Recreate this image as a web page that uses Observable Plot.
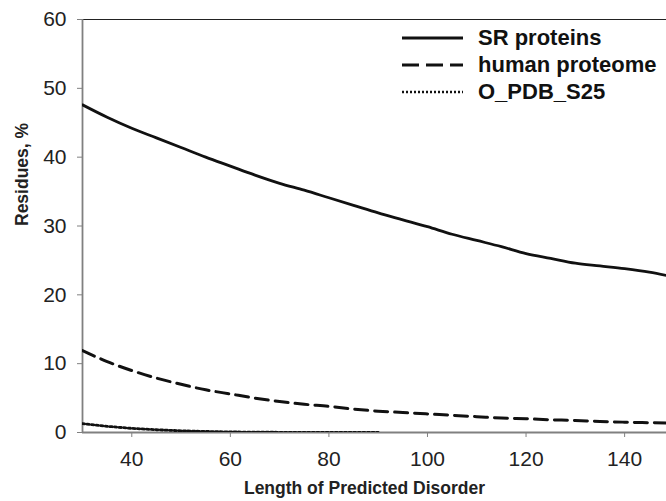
<!DOCTYPE html>
<html>
<head>
<meta charset="utf-8">
<script src="https://cdn.jsdelivr.net/npm/d3@7"></script>
<script src="https://cdn.jsdelivr.net/npm/@observablehq/plot@0.6"></script>
<style>
  html, body { margin: 0; padding: 0; background: #fff; overflow: hidden; }
  #wrap { position: relative; width: 666px; height: 501px; }
  #legend { position: absolute; left: 400px; top: 24px; font-family: "Liberation Sans", Arial, sans-serif; font-weight: bold; font-size: 22px; color: #111; }
  #legend .row { display: flex; align-items: center; height: 27px; }
  #legend svg { width: 66px; height: 10px; margin-right: 12px; }
</style>
</head>
<body>
<div id="wrap"></div>
<script>
const lengths = [30, 35, 40, 45, 50, 55, 60, 65, 70, 75, 80, 85, 90, 95, 100, 105, 110, 115, 120, 125, 130, 135, 140, 145, 150];
const srProteins = [47.6, 45.8, 44.2, 42.8, 41.4, 40.0, 38.7, 37.4, 36.2, 35.2, 34.1, 33.0, 31.9, 30.9, 29.9, 28.8, 27.9, 27.0, 26.0, 25.3, 24.6, 24.2, 23.8, 23.3, 22.6];
const humanProteome = [11.9, 10.3, 9.0, 7.9, 7.0, 6.2, 5.6, 5.0, 4.5, 4.1, 3.8, 3.4, 3.1, 2.9, 2.7, 2.5, 2.3, 2.1, 2.0, 1.85, 1.75, 1.6, 1.5, 1.42, 1.35];
const pdbLengths = [30, 35, 40, 45, 50, 55, 60, 65, 70, 75, 80, 85, 90];
const oPdbS25 = [1.3, 0.9, 0.6, 0.4, 0.25, 0.15, 0.08, 0.05, 0.03, 0.02, 0.01, 0.0, 0.0];
const seriesNames = ["SR proteins", "human proteome", "O_PDB_S25"];
const xTicks = [40, 60, 80, 100, 120, 140];
const yTicks = [0, 10, 20, 30, 40, 50, 60];
const xLabel = "Length of Predicted Disorder";
const yLabel = "Residues, %";

const sr = lengths.map((x, i) => ({x, y: srProteins[i]}));
const hp = lengths.map((x, i) => ({x, y: humanProteome[i]}));
const pdb = pdbLengths.map((x, i) => ({x, y: oPdbS25[i]}));

const font = "'Liberation Sans', Arial, sans-serif";
const axisGray = "#808080";

const chart = Plot.plot({
  width: 666,
  height: 501,
  marginLeft: 82,
  marginTop: 19,
  marginBottom: 69,
  marginRight: 0,
  style: {fontFamily: font, background: "#fff"},
  x: {domain: [30, 148.5]},
  y: {domain: [0, 60]},
  marks: [
    Plot.axisY({ticks: yTicks, tickSize: 5, tickPadding: 11, fontSize: 21, stroke: axisGray, fill: "#222", label: null}),
    Plot.axisX({ticks: xTicks, tickSize: 5, tickPadding: 14, fontSize: 21, stroke: axisGray, fill: "#222", label: null}),
    Plot.ruleY([yTicks[yTicks.length - 1]], {stroke: "#222", strokeWidth: 1.2}),
    Plot.ruleX([lengths[0]], {stroke: axisGray, strokeWidth: 1.8}),
    Plot.ruleY([yTicks[0]], {stroke: axisGray, strokeWidth: 1.8}),
    Plot.line(pdb, {x: "x", y: "y", stroke: "#111", strokeWidth: 2.8, strokeDasharray: "2.2,2.4", clip: true}),
    Plot.line(hp, {x: "x", y: "y", stroke: "#111", strokeWidth: 3, strokeDasharray: "13,7", curve: "monotone-x", clip: true}),
    Plot.line(sr, {x: "x", y: "y", stroke: "#111", strokeWidth: 2.8, curve: "monotone-x", clip: true}),
    Plot.text([yLabel], {frameAnchor: "left", rotate: -90, dx: -60, fontSize: 17.5, fontWeight: "bold", fill: "#222"}),
    Plot.text([xLabel], {frameAnchor: "bottom", dy: 61, dx: -10, fontSize: 17.5, fontWeight: "bold", fill: "#222"})
  ]
});

const wrap = document.getElementById("wrap");
wrap.appendChild(chart);

const legendStyles = [
  {dash: null, w: 3},
  {dash: "17,7", w: 3},
  {dash: "2,2", w: 2.6}
];
const legend = document.createElement("div");
legend.id = "legend";
seriesNames.forEach((name, i) => {
  const row = document.createElement("div");
  row.className = "row";
  const s = legendStyles[i];
  row.innerHTML = `<svg viewBox="0 0 66 10"><line x1="2" x2="63" y1="5" y2="5" stroke="#111" stroke-width="${s.w}" ${s.dash ? `stroke-dasharray="${s.dash}"` : ""}/></svg><span>${name}</span>`;
  legend.appendChild(row);
});
wrap.appendChild(legend);
</script>
</body>
</html>
